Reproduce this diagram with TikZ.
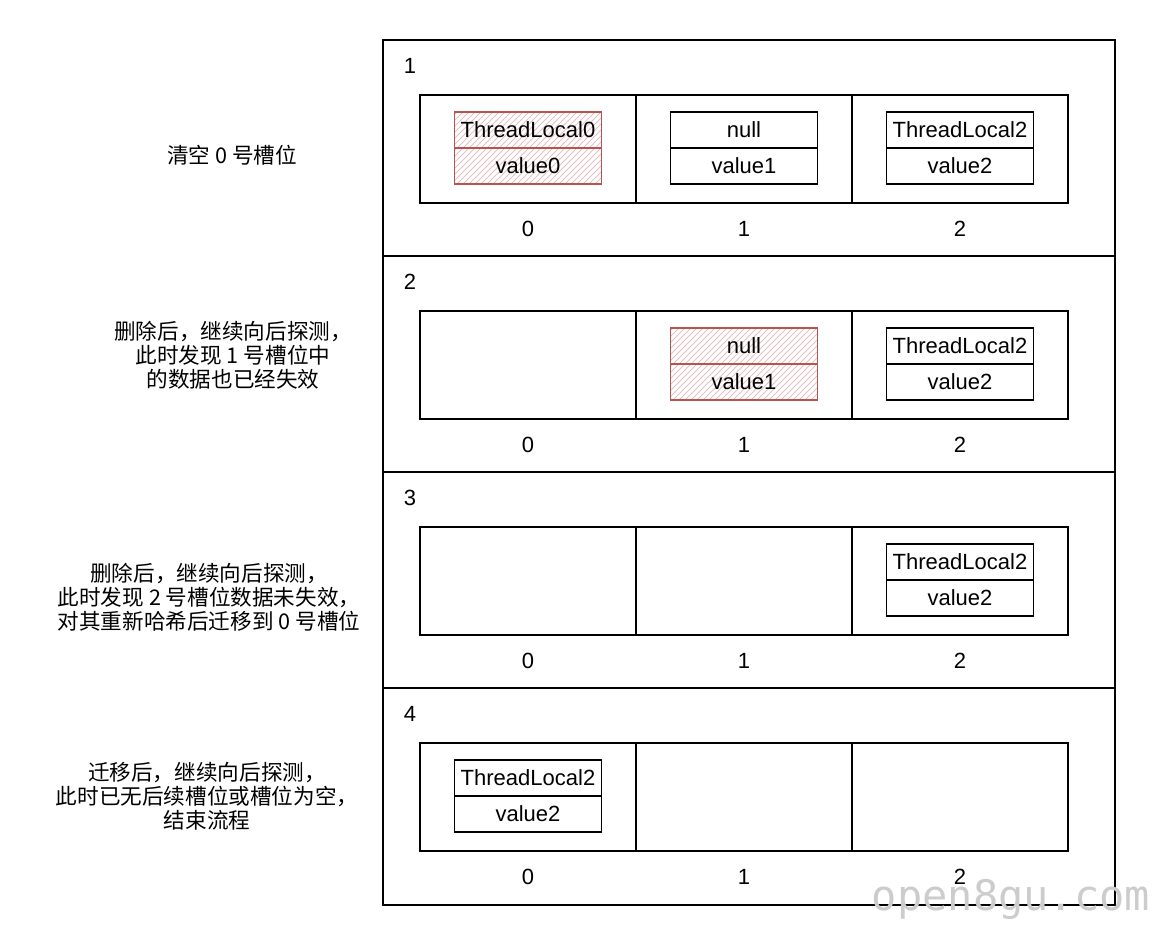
\documentclass[tikz,border=0pt]{standalone}
\usepackage{fontspec}
\setmainfont{Liberation Sans}
\newfontfamily\cjk{Noto Sans CJK SC}
\newfontfamily\wmfont{DejaVu Sans Mono}
\usetikzlibrary{patterns,positioning}
\definecolor{staleRed}{HTML}{B85450}

\tikzset{
  slot/.style={draw,line width=0.8pt,minimum width=108pt,minimum height=54pt,inner sep=0pt},
  entry/.style={draw,line width=0.8pt,minimum width=73.5pt,minimum height=18pt,
    inner sep=0pt,font=\fontsize{11}{13}\selectfont},
  stale/.style={entry,draw=staleRed,pattern=north east lines,pattern color=staleRed!35},
  idx/.style={font=\fontsize{11}{13}\selectfont},
  note/.style={align=center,font=\cjk\fontsize{10.8}{12}\selectfont}
}

\begin{document}
\begin{tikzpicture}[x=0.5pt,y=-0.5pt]
  \useasboundingbox (0,0) rectangle (1167,929);

  % outer frame and the four panels
  \draw[line width=0.75pt] (383,40) rectangle (1115,905);
  \foreach \y in {256,472,688}
    \draw[line width=0.75pt] (383,\y) -- (1115,\y);

  \foreach \k in {1,...,4} {
    \pgfmathsetmacro\rowtop{40+216*(\k-1)}
    \node[idx] (num\k) at (410,\rowtop+26) {\k};
    \foreach \i in {0,1,2} {
      \node[slot] (c\k\i) at (528+216*\i,\rowtop+109) {};
      \node[idx] (i\k\i) at (528+216*\i,\rowtop+189) {\i};
    }
  }

  % step 1
  \node[stale] (k10) at (528,130) {ThreadLocal0};
  \node[stale] (v10) at (528,166) {value0};
  \node[entry] (k11) at (744,130) {null};
  \node[entry] (v11) at (744,166) {value1};
  \node[entry] (k12) at (960,130) {ThreadLocal2};
  \node[entry] (v12) at (960,166) {value2};

  % step 2
  \node[stale] (k21) at (744,346) {null};
  \node[stale] (v21) at (744,382) {value1};
  \node[entry] (k22) at (960,346) {ThreadLocal2};
  \node[entry] (v22) at (960,382) {value2};

  % step 3
  \node[entry] (k32) at (960,562) {ThreadLocal2};
  \node[entry] (v32) at (960,598) {value2};

  % step 4
  \node[entry] (k40) at (528,778) {ThreadLocal2};
  \node[entry] (v40) at (528,814) {value2};

  % notes on the left
  \node[note] (n1) at (232,155) {清空 0 号槽位};
  \node[note] (n2) at (233,355) {删除后，继续向后探测，\\此时发现 1 号槽位中\\的数据也已经失效};
  \node[note] (n3) at (209,597) {删除后，继续向后探测，\\此时发现 2 号槽位数据未失效，\\对其重新哈希后迁移到 0 号槽位};
  \node[note] (n4) at (207,796) {迁移后，继续向后探测，\\此时已无后续槽位或槽位为空，\\结束流程};

  \node[text=gray!40,font=\wmfont\fontsize{21}{21}\selectfont] (wm) at (1011,899) {open8gu.com};
\end{tikzpicture}
\end{document}
